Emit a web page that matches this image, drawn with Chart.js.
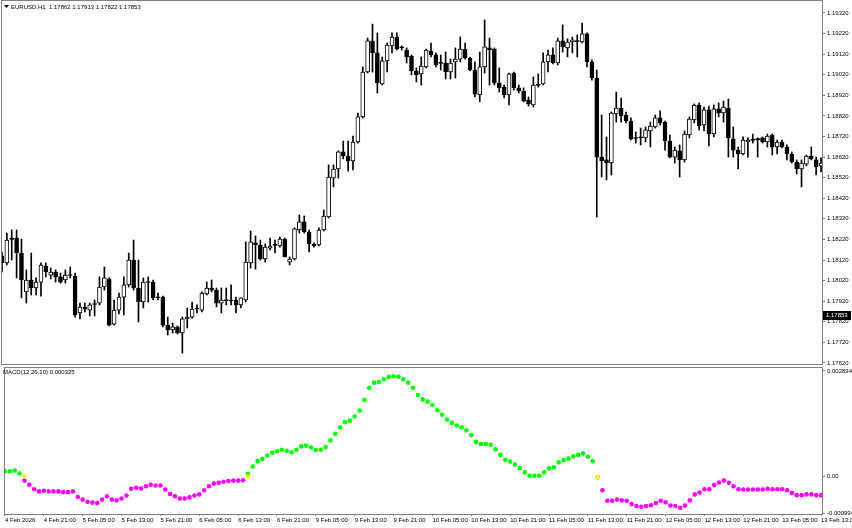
<!DOCTYPE html>
<html>
<head>
<meta charset="utf-8">
<title>EURUSD H1 + MACD</title>
<script src="https://cdn.jsdelivr.net/npm/chart.js@4.4.1/dist/chart.umd.min.js"></script>
<style>
    html, body { margin: 0; padding: 0; background: #fff; }
    #wrap { position: relative; width: 852px; height: 528px; background: #fff; overflow: hidden; }
    #wrap canvas { position: absolute; left: 0; }
</style>
</head>
<body>
<div id="wrap">
    <canvas id="priceChart" width="852" height="366" style="top:0"></canvas>
    <canvas id="macdChart" width="852" height="164" style="top:364px"></canvas>
</div>
<script>
// ============================================
// 1. DATA (EURUSD H1, 4 Feb 13:00 .. 13 Feb 12:00)
// ============================================
const opens = [
    1.18140, 1.18106, 1.18222, 1.18227, 1.18154, 1.17965, 1.18023, 1.17984, 1.18013, 1.18091,
    1.18047, 1.18062, 1.18038, 1.18023, 1.18047, 1.18042, 1.17863, 1.17892, 1.17877, 1.17906,
    1.17911, 1.17989, 1.18028, 1.17809, 1.17877, 1.17940, 1.17999, 1.18120, 1.17984, 1.17916,
    1.18013, 1.18013, 1.17940, 1.17940, 1.17804, 1.17780, 1.17795, 1.17766, 1.17834, 1.17843,
    1.17882, 1.17877, 1.17955, 1.17984, 1.17974, 1.17911, 1.17926, 1.17921, 1.17926, 1.17902,
    1.17926, 1.18106, 1.18203, 1.18193, 1.18125, 1.18178, 1.18193, 1.18188, 1.18222, 1.18110,
    1.18125, 1.18266, 1.18305, 1.18256, 1.18198, 1.18193, 1.18266, 1.18329, 1.18518, 1.18562,
    1.18645, 1.18625, 1.18601, 1.18693, 1.18815, 1.19033, 1.19184, 1.19126, 1.18975, 1.19087,
    1.19160, 1.19203, 1.19155, 1.19140, 1.19111, 1.19038, 1.19024, 1.19058, 1.19135, 1.19116,
    1.19077, 1.19077, 1.19033, 1.19082, 1.19096, 1.19145, 1.19101, 1.19043, 1.18922, 1.19058,
    1.19150, 1.19145, 1.18980, 1.18960, 1.18922, 1.19028, 1.18956, 1.18941, 1.18897, 1.18873,
    1.18970, 1.18975, 1.19082, 1.19116, 1.19077, 1.19184, 1.19150, 1.19179, 1.19184, 1.19179,
    1.19218, 1.19082, 1.19004, 1.18620, 1.18606, 1.18591, 1.18829, 1.18858, 1.18824, 1.18795,
    1.18713, 1.18713, 1.18713, 1.18747, 1.18766, 1.18810, 1.18790, 1.18698, 1.18620, 1.18650,
    1.18606, 1.18727, 1.18800, 1.18873, 1.18776, 1.18849, 1.18732, 1.18854, 1.18834, 1.18858,
    1.18708, 1.18654, 1.18635, 1.18693, 1.18703, 1.18708, 1.18713, 1.18693, 1.18727, 1.18669,
    1.18693, 1.18669, 1.18635, 1.18596, 1.18562, 1.18586, 1.18625, 1.18606, 1.18577,
];
const highs = [
    1.18159, 1.18251, 1.18266, 1.18266, 1.18222, 1.18072, 1.18154, 1.18033, 1.18106, 1.18106,
    1.18081, 1.18072, 1.18057, 1.18072, 1.18086, 1.18057, 1.17911, 1.17911, 1.17911, 1.17926,
    1.18038, 1.18086, 1.18033, 1.17926, 1.17960, 1.18038, 1.18154, 1.18217, 1.18120, 1.18033,
    1.18038, 1.18023, 1.17960, 1.17945, 1.17843, 1.17814, 1.17800, 1.17843, 1.17887, 1.17916,
    1.17902, 1.17965, 1.18013, 1.18023, 1.17984, 1.17984, 1.17984, 1.17999, 1.17940, 1.17936,
    1.18208, 1.18261, 1.18237, 1.18217, 1.18198, 1.18227, 1.18217, 1.18232, 1.18227, 1.18135,
    1.18276, 1.18339, 1.18334, 1.18266, 1.18203, 1.18276, 1.18363, 1.18582, 1.18582, 1.18650,
    1.18698, 1.18698, 1.18722, 1.18834, 1.19058, 1.19198, 1.19266, 1.19223, 1.19106, 1.19174,
    1.19223, 1.19223, 1.19160, 1.19150, 1.19116, 1.19053, 1.19106, 1.19145, 1.19174, 1.19126,
    1.19116, 1.19130, 1.19096, 1.19150, 1.19203, 1.19174, 1.19106, 1.19082, 1.19130, 1.19286,
    1.19198, 1.19150, 1.19053, 1.18970, 1.19028, 1.19033, 1.18970, 1.18956, 1.18912, 1.19009,
    1.19024, 1.19126, 1.19140, 1.19150, 1.19198, 1.19262, 1.19194, 1.19203, 1.19213, 1.19271,
    1.19223, 1.19092, 1.19043, 1.18824, 1.18718, 1.18839, 1.18936, 1.18907, 1.18839, 1.18810,
    1.18742, 1.18761, 1.18766, 1.18790, 1.18824, 1.18844, 1.18795, 1.18727, 1.18669, 1.18679,
    1.18747, 1.18815, 1.18878, 1.18883, 1.18863, 1.18868, 1.18873, 1.18883, 1.18892, 1.18902,
    1.18766, 1.18669, 1.18718, 1.18713, 1.18732, 1.18713, 1.18718, 1.18732, 1.18732, 1.18703,
    1.18703, 1.18679, 1.18645, 1.18606, 1.18606, 1.18630, 1.18669, 1.18620, 1.18616,
];
const lows = [
    1.18062, 1.18096, 1.18120, 1.18033, 1.17936, 1.17911, 1.17950, 1.17950, 1.17945, 1.18038,
    1.18028, 1.18013, 1.18008, 1.18008, 1.18033, 1.17843, 1.17834, 1.17868, 1.17848, 1.17848,
    1.17902, 1.17974, 1.17800, 1.17804, 1.17858, 1.17853, 1.17989, 1.17974, 1.17819, 1.17887,
    1.17916, 1.17926, 1.17926, 1.17795, 1.17756, 1.17766, 1.17761, 1.17668, 1.17790, 1.17838,
    1.17863, 1.17868, 1.17950, 1.17965, 1.17892, 1.17863, 1.17902, 1.17902, 1.17863, 1.17887,
    1.17916, 1.18081, 1.18076, 1.18120, 1.18110, 1.18169, 1.18154, 1.18183, 1.18135, 1.18096,
    1.18120, 1.18251, 1.18251, 1.18159, 1.18183, 1.18188, 1.18261, 1.18324, 1.18475, 1.18518,
    1.18611, 1.18552, 1.18557, 1.18688, 1.18810, 1.19028, 1.19033, 1.18931, 1.18970, 1.19033,
    1.19126, 1.19140, 1.19140, 1.19077, 1.19019, 1.18985, 1.18970, 1.19053, 1.19106, 1.19058,
    1.19043, 1.18999, 1.18999, 1.19004, 1.19082, 1.19096, 1.19038, 1.18912, 1.18888, 1.19028,
    1.18970, 1.18970, 1.18936, 1.18907, 1.18873, 1.18946, 1.18931, 1.18888, 1.18868, 1.18863,
    1.18960, 1.18970, 1.19033, 1.19072, 1.19067, 1.19130, 1.19106, 1.19126, 1.19106, 1.19174,
    1.19058, 1.18994, 1.18329, 1.18523, 1.18509, 1.18533, 1.18790, 1.18790, 1.18786, 1.18703,
    1.18688, 1.18679, 1.18693, 1.18669, 1.18761, 1.18776, 1.18654, 1.18616, 1.18591, 1.18523,
    1.18596, 1.18713, 1.18786, 1.18752, 1.18747, 1.18674, 1.18718, 1.18815, 1.18790, 1.18620,
    1.18620, 1.18562, 1.18630, 1.18620, 1.18688, 1.18620, 1.18688, 1.18669, 1.18630, 1.18635,
    1.18664, 1.18606, 1.18591, 1.18538, 1.18475, 1.18577, 1.18606, 1.18533, 1.18548,
];
const closes = [
    1.18106, 1.18217, 1.18220, 1.18154, 1.18023, 1.18023, 1.17984, 1.18013, 1.18096, 1.18062,
    1.18062, 1.18038, 1.18013, 1.18047, 1.18045, 1.17853, 1.17892, 1.17882, 1.17902, 1.17904,
    1.17989, 1.18033, 1.17804, 1.17877, 1.17940, 1.17999, 1.18120, 1.17984, 1.17916, 1.18013,
    1.18011, 1.17936, 1.17936, 1.17804, 1.17780, 1.17795, 1.17766, 1.17834, 1.17843, 1.17882,
    1.17885, 1.17960, 1.17984, 1.17974, 1.17911, 1.17926, 1.17923, 1.17923, 1.17902, 1.17936,
    1.18110, 1.18208, 1.18193, 1.18125, 1.18183, 1.18188, 1.18191, 1.18222, 1.18135, 1.18125,
    1.18271, 1.18305, 1.18256, 1.18198, 1.18188, 1.18266, 1.18334, 1.18523, 1.18562, 1.18645,
    1.18625, 1.18601, 1.18693, 1.18815, 1.19033, 1.19184, 1.19126, 1.18980, 1.19087, 1.19164,
    1.19203, 1.19145, 1.19150, 1.19106, 1.19038, 1.19019, 1.19062, 1.19140, 1.19116, 1.19067,
    1.19075, 1.19033, 1.19077, 1.19096, 1.19145, 1.19101, 1.19043, 1.18926, 1.19058, 1.19155,
    1.19140, 1.18980, 1.18956, 1.18922, 1.19024, 1.18956, 1.18941, 1.18892, 1.18878, 1.18970,
    1.18968, 1.19082, 1.19116, 1.19077, 1.19184, 1.19155, 1.19179, 1.19189, 1.19181, 1.19218,
    1.19082, 1.19004, 1.18620, 1.18601, 1.18591, 1.18834, 1.18858, 1.18820, 1.18795, 1.18708,
    1.18710, 1.18715, 1.18752, 1.18771, 1.18810, 1.18786, 1.18698, 1.18620, 1.18654, 1.18606,
    1.18732, 1.18805, 1.18873, 1.18771, 1.18849, 1.18732, 1.18854, 1.18834, 1.18863, 1.18713,
    1.18654, 1.18635, 1.18703, 1.18703, 1.18701, 1.18705, 1.18693, 1.18722, 1.18669, 1.18693,
    1.18669, 1.18635, 1.18596, 1.18562, 1.18591, 1.18625, 1.18611, 1.18572, 1.18591,
];

// MACD(12,26,10) dots, one per bar
const macdValues = [
     0.00014,  0.00014,  0.00016,  0.00008, -0.00011, -0.00022, -0.00034, -0.00040, -0.00038, -0.00040,
    -0.00040, -0.00040, -0.00042, -0.00042, -0.00040, -0.00055, -0.00062, -0.00068, -0.00070, -0.00071,
    -0.00062, -0.00053, -0.00062, -0.00064, -0.00059, -0.00051, -0.00033, -0.00030, -0.00032, -0.00026,
    -0.00022, -0.00024, -0.00024, -0.00035, -0.00047, -0.00053, -0.00059, -0.00059, -0.00056, -0.00051,
    -0.00048, -0.00037, -0.00026, -0.00019, -0.00017, -0.00014, -0.00012, -0.00011, -0.00011, -0.00010,
     0.00007,  0.00027,  0.00042,  0.00047,  0.00056,  0.00064,  0.00068,  0.00072,  0.00069,  0.00065,
     0.00072,  0.00081,  0.00083,  0.00078,  0.00071,  0.00072,  0.00079,  0.00097,  0.00115,  0.00132,
     0.00146,  0.00150,  0.00161,  0.00177,  0.00205,  0.00238,  0.00252,  0.00254,  0.00261,  0.00267,
     0.00269,  0.00268,  0.00261,  0.00252,  0.00238,  0.00219,  0.00207,  0.00201,  0.00192,  0.00178,
     0.00166,  0.00153,  0.00144,  0.00137,  0.00132,  0.00124,  0.00111,  0.00093,  0.00087,  0.00087,
     0.00085,  0.00073,  0.00058,  0.00045,  0.00040,  0.00032,  0.00023,  0.00011,  0.00002,  0.00002,
     0.00002,  0.00011,  0.00022,  0.00025,  0.00038,  0.00044,  0.00048,  0.00054,  0.00058,  0.00062,
     0.00053,  0.00041, -0.00002, -0.00037, -0.00065, -0.00065, -0.00062, -0.00064, -0.00065, -0.00074,
    -0.00079, -0.00081, -0.00079, -0.00077, -0.00071, -0.00065, -0.00069, -0.00078, -0.00079, -0.00084,
    -0.00078, -0.00064, -0.00048, -0.00043, -0.00034, -0.00034, -0.00023, -0.00016, -0.00011, -0.00017,
    -0.00026, -0.00034, -0.00035, -0.00035, -0.00035, -0.00035, -0.00035, -0.00033, -0.00034, -0.00034,
    -0.00034, -0.00037, -0.00044, -0.00050, -0.00050, -0.00048, -0.00048, -0.00050, -0.00050,
];
// yellow markers where the MACD crosses zero
const crossBars   = [4, 50, 122];
const crossValues = [0.00000, 0.00000, -0.00002];

const priceTicks = [
    1.17620, 1.17720, 1.17820, 1.17920, 1.18020, 1.18120, 1.18220, 1.18320, 1.18420,
    1.18520, 1.18620, 1.18720, 1.18820, 1.18920, 1.19020, 1.19120, 1.19220, 1.19320,
];
const macdTicks      = [-0.000994, 0, 0.002834];
const macdTickLabels = ['-0.000994', '0.00', '0.002834'];
const timeLabels = [
    '4 Feb 2026', '4 Feb 21:00', '5 Feb 05:00', '5 Feb 13:00', '5 Feb 21:00', '6 Feb 05:00',
    '6 Feb 13:00', '6 Feb 21:00', '9 Feb 05:00', '9 Feb 13:00', '9 Feb 21:00', '10 Feb 05:00',
    '10 Feb 13:00', '10 Feb 21:00', '11 Feb 05:00', '11 Feb 13:00', '11 Feb 21:00', '12 Feb 05:00',
    '12 Feb 13:00', '12 Feb 21:00', '13 Feb 05:00', '13 Feb 13:00',
];
const barsPerLabel = 8;

const currentPrice = 1.17853;
const titleText = 'EURUSD,H1  1.17862 1.17913 1.17822 1.17853';
const macdTitle = 'MACD(12,26,10) 0.000325';

// ============================================
// 2. SHARED SETTINGS
// ============================================
const FONT  = "'Liberation Sans', Arial, sans-serif";
const FRAME = '#808080';
Chart.defaults.font.family = FONT;
Chart.defaults.font.size = 6;
Chart.defaults.color = '#000';
Chart.defaults.animation = false;

const xMin = -0.2;
const xMax = 168.2;

// right price axis: fixed width, no extra label padding
const fitRightAxis = s => {
    s.width = 30;
    s.paddingTop = 0;
    s.paddingBottom = 0;
};

// frame around the plot area (MT4 style)
const framePlugin = {
    id: 'frame',
    afterDraw(chart) {
        const { ctx, chartArea: a } = chart;
        ctx.save();
        ctx.strokeStyle = FRAME;
        ctx.lineWidth = 1;
        ctx.strokeRect(Math.round(a.left) + 0.5, Math.round(a.top) - 0.5,
                       Math.round(a.right - a.left), Math.round(a.bottom - a.top) + 1);
        ctx.restore();
    },
};

// ============================================
// 3. PRICE CHART (candles)
// ============================================
const isBull = i => closes[i] - opens[i] > 0.00003;

const priceLabelsPlugin = {
    id: 'priceLabels',
    afterDraw(chart) {
        const { ctx } = chart;
        const y = Math.round(chart.scales.y.getPixelForValue(currentPrice));
        ctx.save();
        // current price box on the axis
        ctx.fillStyle = '#000';
        ctx.fillRect(chart.chartArea.right + 1, y - 4, 28, 9);
        ctx.fillStyle = '#fff';
        ctx.font = `6px ${FONT}`;
        ctx.textBaseline = 'middle';
        ctx.fillText(currentPrice.toFixed(5), chart.chartArea.right + 4, y + 0.5);
        // symbol line, top left
        ctx.fillStyle = '#000';
        ctx.beginPath();
        ctx.moveTo(4, 5);
        ctx.lineTo(9, 5);
        ctx.lineTo(6.5, 8);
        ctx.closePath();
        ctx.fill();
        ctx.fillText(titleText, 11, 7);
        ctx.restore();
    },
};

new Chart(document.getElementById('priceChart'), {
    type: 'bar',
    data: {
        datasets: [
            {
                label: 'wick',
                data: lows.map((l, i) => ({ x: i, y: [l, highs[i]] })),
                backgroundColor: '#000',
                barThickness: 1,
                grouped: false,
                order: 2,
            },
            {
                label: 'body',
                data: opens.map((o, i) => ({ x: i, y: [o, closes[i]] })),
                backgroundColor: c => isBull(c.dataIndex) ? '#fff' : '#000',
                borderColor: '#000',
                borderWidth: 1,
                borderSkipped: false,
                barThickness: 4,
                minBarLength: 1,
                grouped: false,
                order: 1,
            },
        ],
    },
    options: {
        responsive: false,
        maintainAspectRatio: false,
        devicePixelRatio: 1,
        layout: { padding: { left: 1, top: 1, right: 0, bottom: 2 } },
        plugins: { legend: { display: false }, tooltip: { enabled: false } },
        events: [],
        scales: {
            x: { type: 'linear', display: false, min: xMin, max: xMax, offset: false },
            y: {
                position: 'right',
                min: 1.17615,
                max: 1.19378,
                afterBuildTicks: s => { s.ticks = priceTicks.map(v => ({ value: v })); },
                afterFit: fitRightAxis,
                grid: { drawOnChartArea: false, tickLength: 3, color: FRAME },
                border: { color: FRAME },
                ticks: { crossAlign: 'near', padding: 2, callback: v => v.toFixed(5) },
            },
        },
    },
    plugins: [framePlugin, priceLabelsPlugin],
});

// ============================================
// 4. MACD PANEL (coloured dots)
// ============================================
const macdTitlePlugin = {
    id: 'macdTitle',
    afterDraw(chart) {
        const { ctx } = chart;
        ctx.save();
        ctx.fillStyle = '#000';
        ctx.font = `6px ${FONT}`;
        ctx.textBaseline = 'middle';
        ctx.fillText(macdTitle, 3, 8);
        ctx.restore();
    },
};

new Chart(document.getElementById('macdChart'), {
    type: 'scatter',
    data: {
        datasets: [
            {
                label: 'cross',
                data: crossBars.map((b, k) => ({ x: b, y: crossValues[k] })),
                pointBackgroundColor: '#ffff00',
                pointBorderWidth: 0,
                pointRadius: 2.3,
                order: 1,
            },
            {
                label: 'macd',
                data: macdValues.map((v, i) => ({ x: i, y: v })),
                pointBackgroundColor: c => (c.raw && c.raw.y > 0) ? '#00ff00' : '#ff00ff',
                pointBorderWidth: 0,
                pointRadius: 2.3,
                order: 2,
            },
        ],
    },
    options: {
        responsive: false,
        maintainAspectRatio: false,
        devicePixelRatio: 1,
        layout: { padding: { left: 1, top: 2, right: 0, bottom: 0 } },
        plugins: { legend: { display: false }, tooltip: { enabled: false } },
        events: [],
        scales: {
            x: {
                type: 'linear',
                min: xMin,
                max: xMax,
                offset: false,
                afterBuildTicks: s => { s.ticks = timeLabels.map((_, k) => ({ value: k * barsPerLabel })); },
                afterFit: s => { s.height = 14; s.paddingLeft = 0; s.paddingRight = 0; },
                grid: { drawOnChartArea: false, tickLength: 2, color: FRAME },
                border: { color: FRAME },
                ticks: {
                    autoSkip: false,
                    maxRotation: 0,
                    align: 'start',
                    padding: 1,
                    callback: v => timeLabels[Math.round(v / barsPerLabel)],
                },
            },
            y: {
                position: 'right',
                min: -0.001006,
                max: 0.002913,
                afterBuildTicks: s => { s.ticks = macdTicks.map(v => ({ value: v })); },
                afterFit: fitRightAxis,
                grid: { drawOnChartArea: false, tickLength: 3, color: FRAME },
                border: { color: FRAME },
                ticks: { crossAlign: 'near', padding: 2, callback: (v, i) => macdTickLabels[i] },
            },
        },
    },
    plugins: [framePlugin, macdTitlePlugin],
});
</script>
</body>
</html>
